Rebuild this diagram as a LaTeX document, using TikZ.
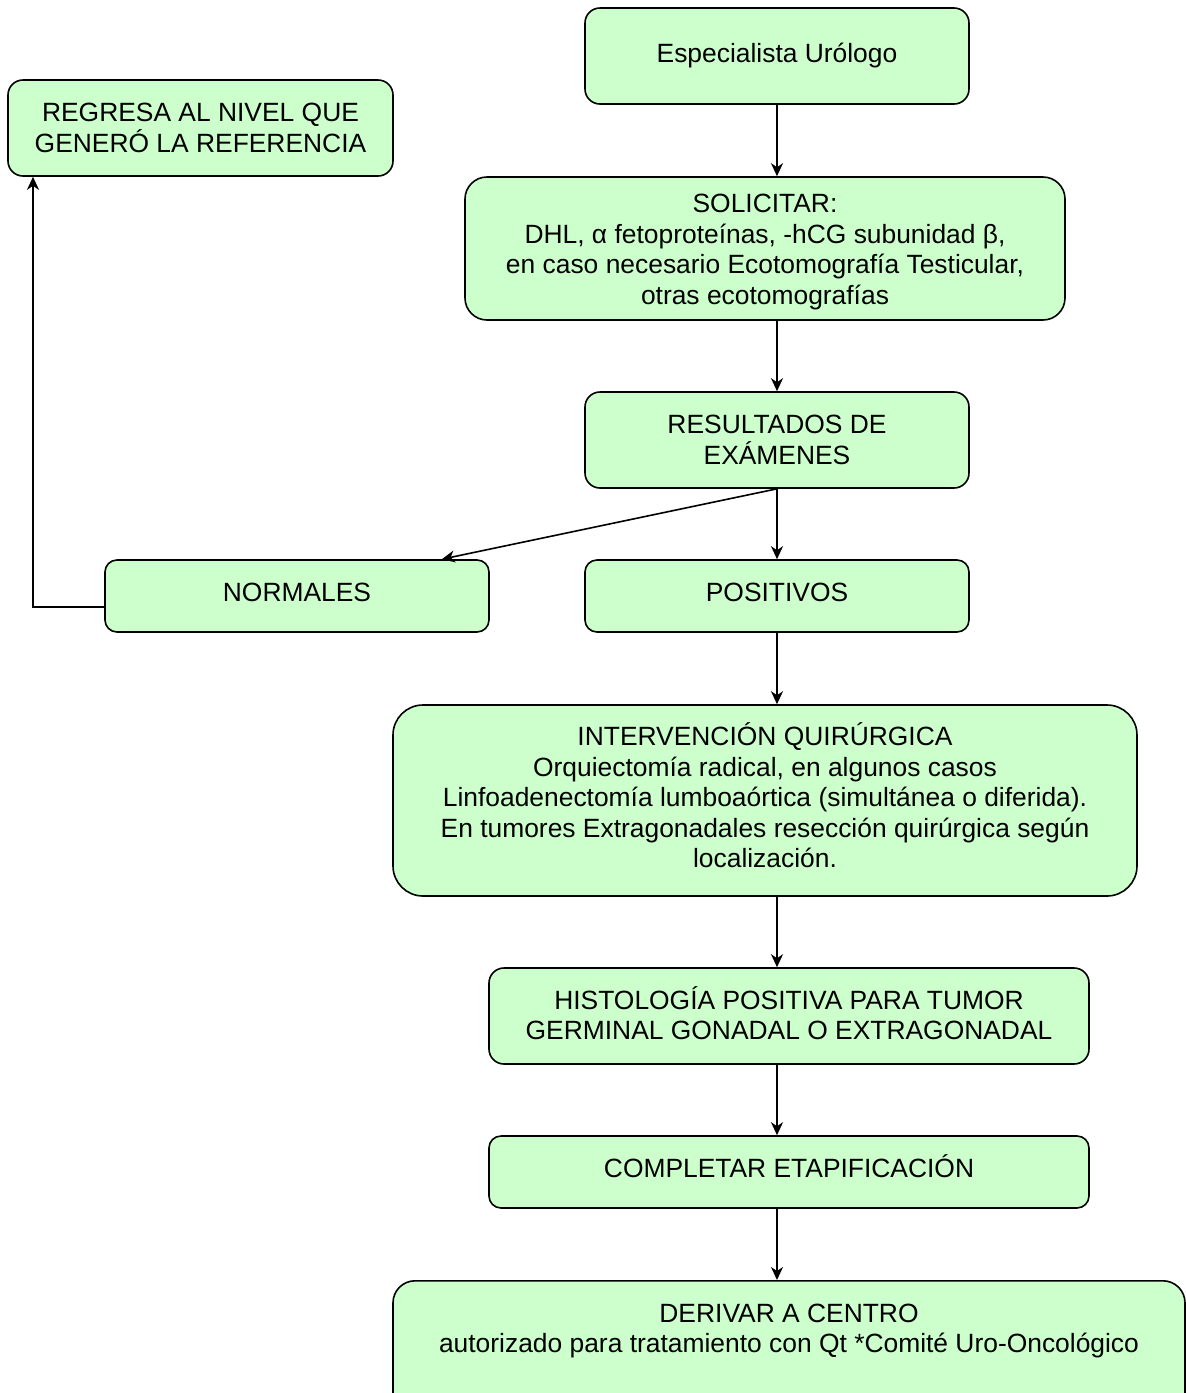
\documentclass[tikz,border=0pt]{standalone}
\usepackage{fontspec}
\setmainfont{Liberation Sans}
\usetikzlibrary{arrows.meta,calc}
\definecolor{boxgreen}{HTML}{CCFFCC}
\newcommand\topstrut[1]{\rule{0pt}{#1}}
\begin{document}
\begin{tikzpicture}[x=1pt,y=-1pt,
  box/.style={draw=black, fill=boxgreen, line width=1.6pt, align=center,
    font=\fontsize{26.4}{30.5}\selectfont, inner sep=0pt, rounded corners=15pt},
  tup/.style={execute at end node={\rule[-#1]{0pt}{#1}}},
  arr/.style={line width=1.6pt, -{Stealth[length=13pt,width=12pt,inset=4pt]}}]
\useasboundingbox (0,0) rectangle (1186,1393);
\fill[white] (0,0) rectangle (1186,1393);
\node[box, minimum width=384pt, minimum height=96pt] (esp) at (777,56) {Especialista Urólogo};
\node[box, minimum width=385pt, minimum height=96pt] (reg) at (200.5,128) {REGRESA AL NIVEL QUE\\GENERÓ LA REFERENCIA};
\node[box, minimum width=600pt, minimum height=143pt, rounded corners=22pt] (sol) at (765,248.5) {\topstrut{25pt}SOLICITAR:\\DHL, α fetoproteínas, -hCG subunidad β,\\en caso necesario Ecotomografía Testicular,\\otras ecotomografías};
\node[box, minimum width=384pt, minimum height=96pt] (res) at (777,440) {RESULTADOS DE\\EXÁMENES};
\node[box, tup=8pt, minimum width=384pt, minimum height=72pt, rounded corners=12pt] (norm) at (297,596) {NORMALES};
\node[box, tup=8pt, minimum width=384pt, minimum height=72pt, rounded corners=12pt] (pos) at (777,596) {POSITIVOS};
\node[box, tup=10pt, minimum width=744pt, minimum height=191pt, rounded corners=30pt] (int) at (765,800.5) {INTERVENCIÓN QUIRÚRGICA\\Orquiectomía radical, en algunos casos\\Linfoadenectomía lumboaórtica (simultánea o diferida).\\En tumores Extragonadales resección quirúrgica según\\localización.};
\node[box, tup=6pt, minimum width=600pt, minimum height=96pt] (hist) at (789,1016) {HISTOLOGÍA POSITIVA PARA TUMOR\\GERMINAL GONADAL O EXTRAGONADAL};
\node[box, tup=12pt, minimum width=600pt, minimum height=72pt, rounded corners=12pt] (comp) at (789,1172) {COMPLETAR ETAPIFICACIÓN};
\node[box, minimum width=792pt, minimum height=140pt, rounded corners=22pt, anchor=north] (der) at (789,1280) {};
\node[align=center, font=\fontsize{26.4}{30.5}\selectfont, inner sep=0pt] (dertxt) at (789,1331) {DERIVAR A CENTRO\\autorizado para tratamiento con Qt *Comité Uro-Oncológico};
% connectors
\draw[arr] (esp.south) -- (sol.north -| esp.south);
\draw[arr] (sol.south -| res.north) -- (res.north);
\draw[arr] (res.south) -- (pos.north);
\draw[arr] (res.south) -- ($(norm.north east)+(-48,0)$);
\draw[arr] (norm.west |- 0,607) -| (reg.south -| 33,0);
\draw[arr] (pos.south) -- (int.north -| pos.south);
\draw[arr] (int.south -| pos.south) -- (hist.north -| pos.south);
\draw[arr] (hist.south -| pos.south) -- (comp.north -| pos.south);
\draw[arr] (comp.south -| pos.south) -- (der.north -| pos.south);
\end{tikzpicture}
\end{document}
